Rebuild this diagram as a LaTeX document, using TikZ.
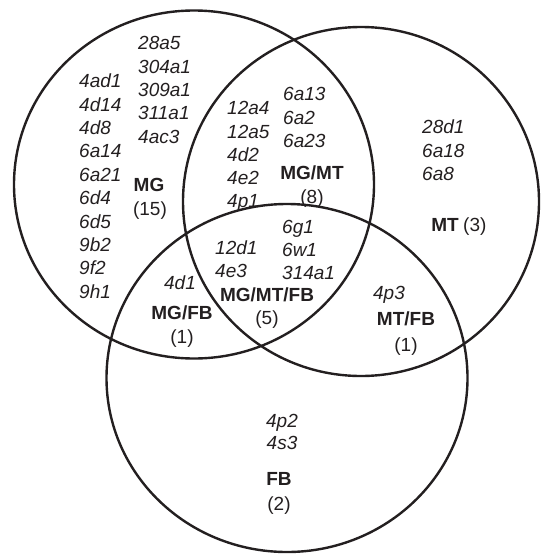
\documentclass[tikz,border=0pt]{standalone}
\usepackage{fontspec}
\setmainfont{Liberation Sans}
\definecolor{ink}{HTML}{231F20}
\begin{document}
\begin{tikzpicture}[x=1pt,y=-1pt,
  ring/.style={draw=ink,line width=2.4pt},
  code/.style={font=\fontsize{19}{22}\selectfont\itshape,text=ink,text height=13.5pt,text depth=0pt,inner sep=0pt,anchor=west},
  setname/.style={font=\fontsize{19}{22}\selectfont\bfseries,text=ink,text height=13.5pt,text depth=0pt,inner sep=0pt},
  count/.style={font=\fontsize{19}{22}\selectfont,text=ink,text height=13.5pt,text depth=0pt,inner sep=0pt}]
\useasboundingbox (0,0) rectangle (541,554);
% circles
\draw[ring] (194,184.5) ellipse [x radius=180pt, y radius=174pt];
\draw[ring] (361,201.5) ellipse [x radius=178pt, y radius=174.5pt];
\draw[ring] (287,378) ellipse [x radius=180.5pt, y radius=174pt];
% MG only
\foreach \t [count=\i] in {4ad1,4d14,4d8,6a14,6a21,6d4,6d5,9b2,9f2,9h1}
  \node[code] (mga\i) at (79,{81+23.4*(\i-1)}) {\t};
\foreach \t [count=\i] in {28a5,304a1,309a1,311a1,4ac3}
  \node[code] (mgb\i) at (138,{43+23.4*(\i-1)}) {\t};
\node[setname] (mgname) at (149,185) {MG};
\node[count] (mgcount) at (150,209) {(15)};
% MG/MT
\foreach \t [count=\i] in {12a4,12a5,4d2,4e2,4p1}
  \node[code] (mgmta\i) at (227,{108+23.3*(\i-1)}) {\t};
\foreach \t [count=\i] in {6a13,6a2,6a23}
  \node[code] (mgmtb\i) at (283,{94+23.5*(\i-1)}) {\t};
\node[setname] (mgmtname) at (312,173) {MG/MT};
\node[count] (mgmtcount) at (312,197) {(8)};
% MT only
\foreach \t [count=\i] in {28d1,6a18,6a8}
  \node[code] (mt\i) at (422,{127+23.3*(\i-1)}) {\t};
\node[setname,anchor=east] (mtname) at (459,225) {MT};
\node[count,anchor=west] (mtcount) at (463,225) {(3)};
% MG/MT/FB
\foreach \t [count=\i] in {12d1,4e3}
  \node[code] (allA\i) at (215,{248+22.6*(\i-1)}) {\t};
\foreach \t [count=\i] in {6g1,6w1,314a1}
  \node[code] (allB\i) at (282,{227+23*(\i-1)}) {\t};
\node[setname] (allname) at (267,295) {MG/MT/FB};
\node[count] (allcount) at (267,318) {(5)};
% MG/FB
\node[code,anchor=center] (mgfb1) at (180,283) {4d1};
\node[setname] (mgfbname) at (182,313) {MG/FB};
\node[count] (mgfbcount) at (182,337) {(1)};
% MT/FB
\node[code,anchor=center] (mtfb1) at (389,293) {4p3};
\node[setname] (mtfbname) at (406,319) {MT/FB};
\node[count] (mtfbcount) at (406,345) {(1)};
% FB only
\node[code,anchor=center] (fb1) at (282,421) {4p2};
\node[code,anchor=center] (fb2) at (282,443) {4s3};
\node[setname] (fbname) at (279,479) {FB};
\node[count] (fbcount) at (279,504) {(2)};
\end{tikzpicture}
\end{document}
